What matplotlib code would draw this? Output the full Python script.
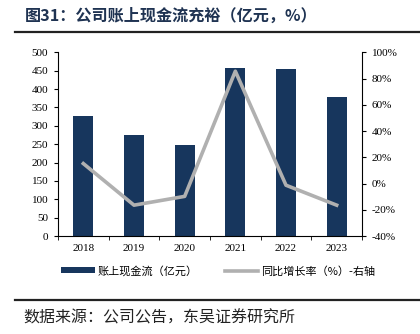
import matplotlib
matplotlib.use('Agg')
from matplotlib import pyplot as plt
from matplotlib.lines import Line2D

# data
years = ['2018', '2019', '2020', '2021', '2022', '2023']
cash = [327, 274, 247, 458, 454, 377]          # 亿元
yoy = [15.2, -16.5, -9.8, 85.6, -1.3, -16.5]   # %

plt.rcParams['font.family'] = ['Liberation Serif', 'Noto Sans CJK SC']
cjk = ['Noto Sans CJK SC', 'DejaVu Sans']
navy = '#17365d'
grey = '#b0b0b0'

fig = plt.figure(figsize=(4.2, 3.34), dpi=100)
ax = fig.add_axes([58 / 420, 1 - 236 / 334, 304 / 420, 183.7 / 334])

x = list(range(len(years)))
bars = ax.bar(x, cash, width=0.4, color=navy, label='账上现金流（亿元）', zorder=2)
ax.set_xlim(-0.5, len(years) - 0.5)
ax.set_ylim(0, 500)
ax.set_yticks(range(0, 501, 50))
ax.set_xticks(x)
ax.set_xticklabels(years)
ax.set_xticks([i - 0.5 for i in range(len(years) + 1)], minor=True)
ax.tick_params(axis='x', which='major', length=0, labelsize=8, pad=6)
ax.tick_params(axis='x', which='minor', length=3, direction='out')
ax.tick_params(axis='y', labelsize=8, length=3, direction='out', pad=4)
ax.spines['top'].set_visible(False)
ax.spines['right'].set_visible(False)

ax2 = ax.twinx()
line, = ax2.plot(x, yoy, color=grey, linewidth=2.6, label='同比增长率（%）-右轴', zorder=3)
ax2.set_ylim(-40, 100)
ax2.set_yticks(range(-40, 101, 20))
ax2.set_yticklabels(['%d%%' % v for v in range(-40, 101, 20)])
ax2.tick_params(axis='y', labelsize=8, length=3, direction='out', pad=4)
ax2.spines['top'].set_visible(False)
ax2.spines['left'].set_visible(False)
ax2.spines['bottom'].set_visible(False)

leg = fig.legend([bars, line], ['账上现金流（亿元）', '同比增长率（%）-右轴'],
                 loc='center', bbox_to_anchor=(0.52, 1 - 271 / 334), ncol=2,
                 frameon=False, handlelength=3.0, handleheight=0.45,
                 handletextpad=0.3, columnspacing=2.4,
                 prop={'family': cjk, 'size': 8})

# title, rules and source note
fig.text(25 / 420, 1 - 16 / 334, '图31：公司账上现金流充裕（亿元，%）',
         family=cjk, fontsize=11.6, fontweight='bold', color='#1f3352',
         ha='left', va='center')
fig.add_artist(Line2D([15 / 420, 1.0], [1 - 31.5 / 334] * 2,
                      transform=fig.transFigure, color='#222222', linewidth=1.6))
fig.add_artist(Line2D([15 / 420, 1.0], [1 - 300 / 334] * 2,
                      transform=fig.transFigure, color='#222222', linewidth=1.6))
fig.text(23 / 420, 1 - 318 / 334, '数据来源：公司公告，东吴证券研究所',
         family=cjk, fontsize=11.5, color='#222222', ha='left', va='center')

fig.savefig('out.png', dpi=100)
